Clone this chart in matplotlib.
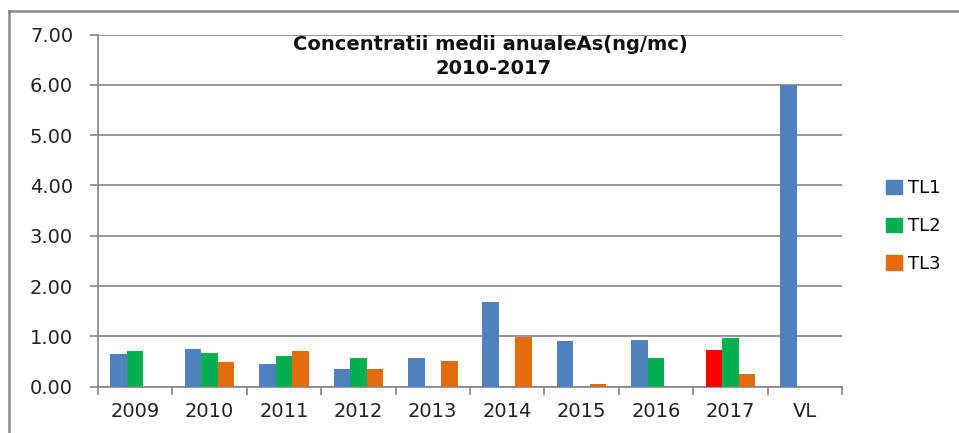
import numpy as np
import matplotlib
matplotlib.use("Agg")
import matplotlib.pyplot as plt
from matplotlib.patches import Patch
from matplotlib.lines import Line2D

categories = ["2009", "2010", "2011", "2012", "2013", "2014", "2015", "2016", "2017", "VL"]
tl1 = [0.65, 0.74, 0.45, 0.36, 0.57, 1.68, 0.90, 0.92, 0.72, 6.00]
tl2 = [0.70, 0.66, 0.62, 0.57, np.nan, np.nan, np.nan, 0.58, 0.96, np.nan]
tl3 = [np.nan, 0.49, 0.70, 0.36, 0.51, 0.99, 0.05, np.nan, 0.26, np.nan]
series_names = ["TL1", "TL2", "TL3"]
title_lines = ["Concentratii medii anualeAs(ng/mc)", "2010-2017"]

blue, green, orange, red = "#4F81BD", "#00B050", "#E46C0A", "#FF0000"
grid_c = "#868686"

plt.rcParams['font.family'] = ['DejaVu Sans']

fig = plt.figure(figsize=(9.59, 4.33), dpi=100)
ax = fig.add_axes([98 / 959, 1 - 386.7 / 433, (842 - 98) / 959, (386.7 - 34.5) / 433])

x = np.arange(len(categories))
w = 0.222
# 2017 TL1 bar is drawn red in the original
tl1_colors = [blue] * len(categories)
tl1_colors[categories.index("2017")] = red
ax.bar(x - w, tl1, w, color=tl1_colors, zorder=3)
ax.bar(x, tl2, w, color=green, zorder=3)
ax.bar(x + w, tl3, w, color=orange, zorder=3)

ax.set_xlim(-0.5, len(categories) - 0.5)
ax.set_ylim(0, 7)
ax.set_yticks(np.arange(0, 8, 1))
ax.set_yticklabels([f"{v:.2f}" for v in np.arange(0, 8, 1)], fontsize=14, color="#222222")
ax.yaxis.grid(True, color=grid_c, linewidth=1.2, zorder=0)

# category labels centred, tick marks on the boundaries
ax.set_xticks(x)
ax.set_xticklabels(categories, fontsize=14, color="#222222")
ax.tick_params(axis="x", length=0, pad=11)
ax.set_xticks(np.arange(-0.5, len(categories), 1), minor=True)
ax.tick_params(axis="x", which="minor", length=6, color=grid_c, width=1.2)
ax.tick_params(axis="y", length=6, color=grid_c, width=1.2, pad=12)

for s in ["top", "right"]:
    ax.spines[s].set_visible(False)
for s in ["left", "bottom"]:
    ax.spines[s].set_color(grid_c)
    ax.spines[s].set_linewidth(1.2)

fig.text(490 / 959, 1 - 44 / 433, title_lines[0], ha="center", va="center",
         fontsize=14, fontweight="bold", color="#111111")
fig.text(494 / 959, 1 - 68 / 433, title_lines[1], ha="center", va="center",
         fontsize=14, fontweight="bold", color="#111111")

handles = [Patch(color=c) for c in (blue, green, orange)]
fig.legend(handles, series_names, loc="center left", bbox_to_anchor=(870 / 959, 1 - 226 / 433),
           frameon=False, fontsize=13, handlelength=0.85, handleheight=0.85,
           handletextpad=0.35, labelspacing=1.1)

# outer frame of the chart (top and left edges visible)
fig.add_artist(Line2D([9 / 959, 9 / 959], [0, 1 - 10.5 / 433], color="#888888", linewidth=1.8))
fig.add_artist(Line2D([9 / 959, 1], [1 - 10.5 / 433, 1 - 10.5 / 433], color="#888888", linewidth=1.8))

fig.savefig("out.png", dpi=100)
